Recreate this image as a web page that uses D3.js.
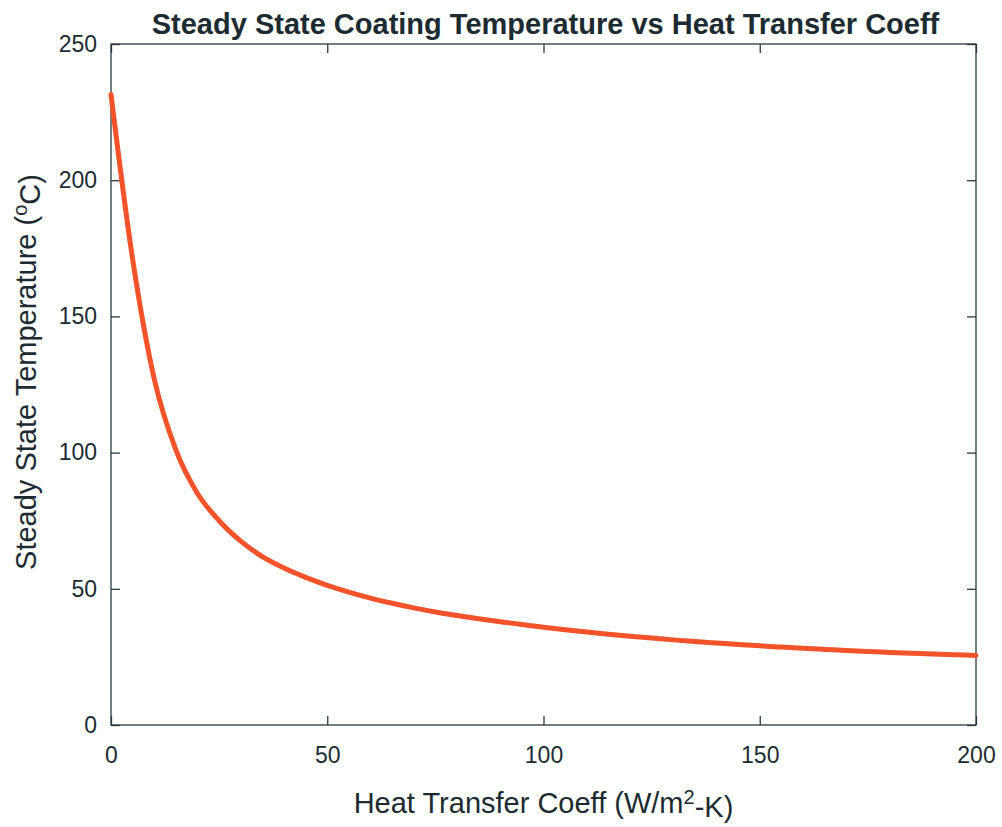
<!DOCTYPE html>
<html>
<head>
<meta charset="utf-8">
<script src="https://cdn.jsdelivr.net/npm/d3@7"></script>
<style>
  body { margin: 0; background: #fff; }
  svg text { font-family: "Liberation Sans", Arial, sans-serif; fill: #1c2b32; }
</style>
</head>
<body>
<div id="chart"></div>
<script>
// values (h in W/m2-K, T in deg C)
var hValues = [0, 5, 10, 15, 20, 25, 30, 35, 40, 45, 50, 55, 60, 65, 70, 75, 80, 85, 90, 95, 100,
               105, 110, 115, 120, 125, 130, 135, 140, 145, 150, 155, 160, 165, 170, 175, 180, 185, 190, 195, 200];
var tempValues = [231.5, 171, 127, 101, 85, 75, 67.5, 61.8, 57.6, 54.2, 51.3, 48.8, 46.6, 44.7, 43.0, 41.5, 40.2, 39.0, 37.9, 36.9, 35.9,
                  35.0, 34.15, 33.35, 32.6, 31.9, 31.25, 30.65, 30.1, 29.55, 29.05, 28.6, 28.15, 27.75, 27.35, 27.0, 26.65, 26.35, 26.05, 25.8, 25.55];
var xTicks = [0, 50, 100, 150, 200];
var yTicks = [0, 50, 100, 150, 200, 250];

var svgWidth = 1002, svgHeight = 827;
var margin = {top: 44, right: 26, bottom: 102, left: 111};
var width = svgWidth - margin.left - margin.right;
var height = svgHeight - margin.top - margin.bottom;

var svg = d3.select("#chart").append("svg")
    .attr("width", svgWidth)
    .attr("height", svgHeight);
var g = svg.append("g")
    .attr("transform", `translate(${margin.left}, ${margin.top})`);

var x = d3.scaleLinear().domain([0, 200]).range([0, width]);
var y = d3.scaleLinear().domain([0, 250]).range([height, 0]);

var axisColor = "#2a3a40";
var tickFont = "23px";

// bottom + left axes with inward ticks (matlab style)
var bottom = g.append("g")
    .attr("transform", `translate(0, ${height})`)
    .call(d3.axisBottom(x).tickValues(xTicks).tickSizeInner(-9).tickSizeOuter(0).tickPadding(22));
var left = g.append("g")
    .call(d3.axisLeft(y).tickValues(yTicks).tickSizeInner(-9).tickSizeOuter(0).tickPadding(14));
// mirrored ticks on top + right, no labels
var top_ = g.append("g")
    .call(d3.axisTop(x).tickValues(xTicks).tickSizeInner(-9).tickSizeOuter(0).tickFormat(""));
var right = g.append("g")
    .attr("transform", `translate(${width}, 0)`)
    .call(d3.axisRight(y).tickValues(yTicks).tickSizeInner(-9).tickSizeOuter(0).tickFormat(""));

[bottom, left, top_, right].forEach(a => {
    a.select(".domain").remove();
    a.selectAll("line").attr("stroke", axisColor).attr("stroke-width", 1.3);
    a.selectAll("text").style("font-size", tickFont).attr("fill", "#1c2b32");
});

// box
g.append("rect")
    .attr("width", width)
    .attr("height", height)
    .attr("fill", "none")
    .attr("stroke", axisColor)
    .attr("stroke-width", 1.3);

// the curve
var line = d3.line()
    .x((d, i) => x(hValues[i]))
    .y(d => y(d))
    .curve(d3.curveMonotoneX);
g.append("path")
    .datum(tempValues)
    .attr("d", line)
    .attr("fill", "none")
    .attr("stroke", "#f2532b")
    .attr("stroke-width", 5)
    .attr("stroke-linejoin", "round")
    .attr("stroke-linecap", "round");

// title
svg.append("text")
    .attr("x", margin.left + width / 2 + 2)
    .attr("y", 34)
    .attr("text-anchor", "middle")
    .style("font-size", "29px")
    .style("font-weight", "bold")
    .attr("fill", "#0d0d0d")
    .text("Steady State Coating Temperature vs Heat Transfer Coeff");

// x label
var xl = svg.append("text")
    .attr("x", margin.left + width / 2)
    .attr("y", 813)
    .attr("text-anchor", "middle")
    .style("font-size", "29px");
xl.append("tspan").text("Heat Transfer Coeff (W/m");
xl.append("tspan").attr("dy", "-0.45em").style("font-size", "20px").text("2");
xl.append("tspan").attr("dy", "0.45em").text("-K)");

// y label
var yl = svg.append("text")
    .attr("transform", `translate(36, 372) rotate(-90)`)
    .attr("text-anchor", "middle")
    .style("font-size", "29px");
yl.append("tspan").text("Steady State Temperature (");
yl.append("tspan").attr("dy", "-0.45em").style("font-size", "20px").text("o");
yl.append("tspan").attr("dy", "0.45em").text("C)");
</script>
</body>
</html>
